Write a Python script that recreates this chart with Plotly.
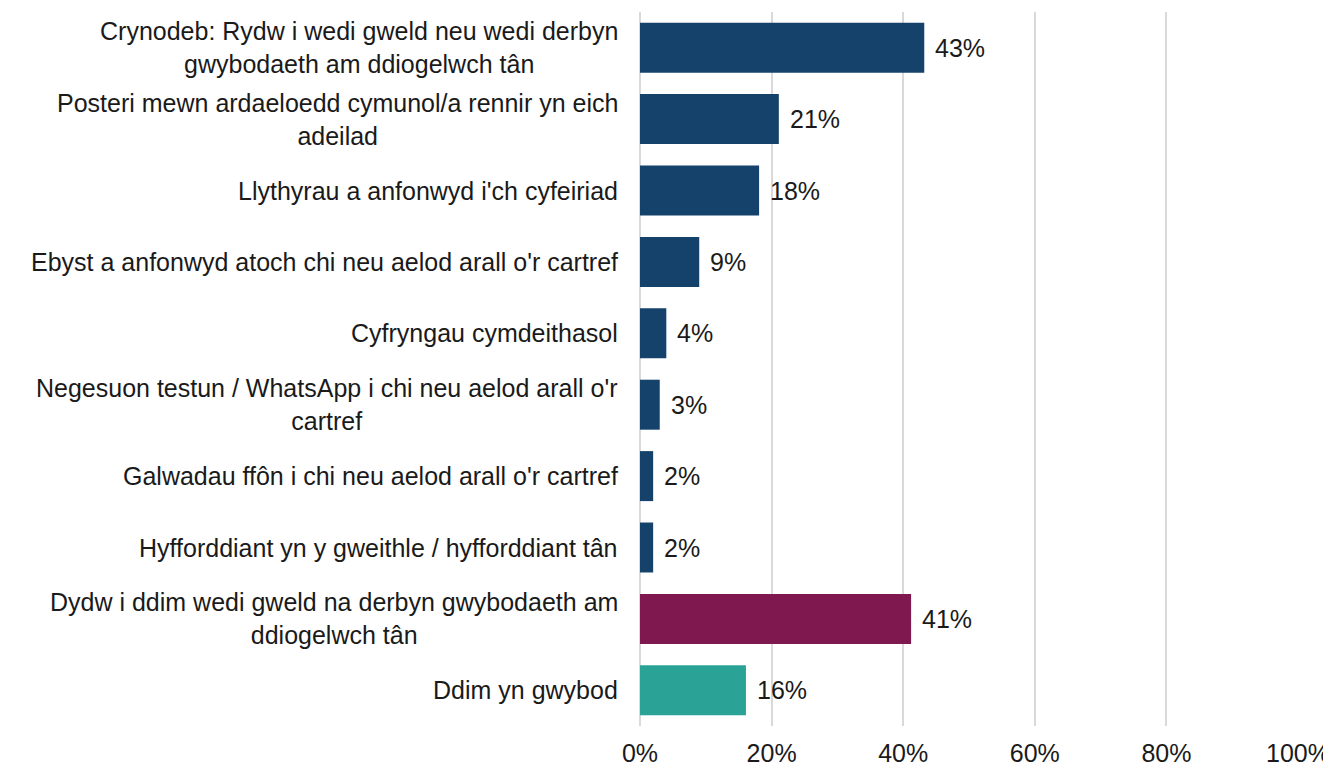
import plotly.graph_objects as go

# Chart data
categories = [
    "Crynodeb: Rydw i wedi gweld neu wedi derbyn<br>gwybodaeth am ddiogelwch tân",
    "Posteri mewn ardaeloedd cymunol/a rennir yn eich<br>adeilad",
    "Llythyrau a anfonwyd i'ch cyfeiriad",
    "Ebyst a anfonwyd atoch chi neu aelod arall o'r cartref",
    "Cyfryngau cymdeithasol",
    "Negesuon testun / WhatsApp i chi neu aelod arall o'r<br>cartref",
    "Galwadau ffôn i chi neu aelod arall o'r cartref",
    "Hyfforddiant yn y gweithle / hyfforddiant tân",
    "Dydw i ddim wedi gweld na derbyn gwybodaeth am<br>ddiogelwch tân",
    "Ddim yn gwybod",
]
values = [43.2, 21.1, 18.1, 9.0, 4.0, 3.0, 2.0, 2.0, 41.2, 16.1]
bar_colors = ["#15426B"] * 8 + ["#7E184E", "#2AA396"]
x_ticks = [0, 20, 40, 60, 80, 100]
x_tick_labels = ["0%", "20%", "40%", "60%", "80%", "100%"]

FONT = "Liberation Sans, Arial, sans-serif"
TEXT_COLOR = "#1a1a1a"
FONT_SIZE = 25

fig = go.Figure()
fig.add_trace(
    go.Bar(
        y=categories,
        x=values,
        orientation="h",
        marker=dict(color=bar_colors, line=dict(width=0)),
        showlegend=False,
        hoverinfo="x+y",
    )
)

# Value labels to the right of each bar
for cat, val in zip(categories, values):
    fig.add_annotation(
        x=val, y=cat, xref="x", yref="y",
        text="{:.0f}%".format(val),
        showarrow=False, xanchor="left", xshift=9,
        font=dict(family=FONT, size=FONT_SIZE, color=TEXT_COLOR),
    )

# Category labels, centred per line like the original
for cat in categories:
    fig.add_annotation(
        x=0, y=cat, xref="paper", yref="y",
        text=cat, align="center",
        showarrow=False, xanchor="right", xshift=-20,
        font=dict(family=FONT, size=FONT_SIZE, color=TEXT_COLOR),
    )

# page body has an 8px margin, so the figure is a bit smaller than the window
fig.update_layout(
    width=1323,
    height=758,
    margin=dict(l=632, r=33, t=4, b=40),
    plot_bgcolor="white",
    paper_bgcolor="white",
    bargap=0.3,
    font=dict(family=FONT, size=FONT_SIZE, color=TEXT_COLOR),
)
fig.update_xaxes(
    range=[0, 100],
    tickvals=x_ticks,
    ticktext=x_tick_labels,
    showgrid=True,
    gridcolor="#d9d9d9",
    gridwidth=1.5,
    zeroline=True,
    zerolinecolor="#d9d9d9",
    zerolinewidth=1.5,
    showline=False,
    automargin=False,
    ticklabelstandoff=10,
    tickfont=dict(family=FONT, size=FONT_SIZE, color=TEXT_COLOR),
)
fig.update_yaxes(
    autorange="reversed",
    showticklabels=False,
    showgrid=False,
    automargin=False,
)

fig.write_html("out.html")
